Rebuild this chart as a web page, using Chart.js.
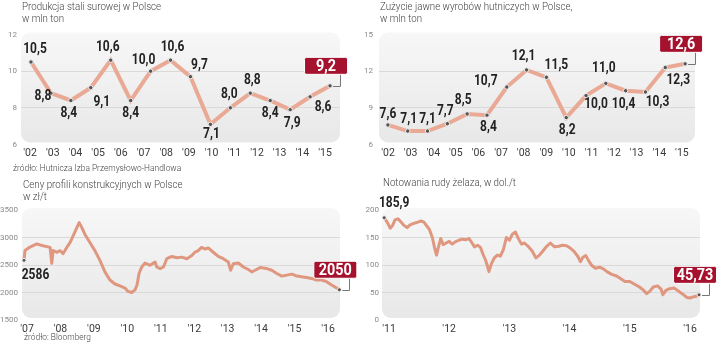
<!DOCTYPE html>
<html lang="pl">
<head>
<meta charset="utf-8">
<script src="https://cdn.jsdelivr.net/npm/chart.js@4.4.1/dist/chart.umd.min.js"></script>
<style>
    body {
        margin: 0;
        width: 720px;
        height: 345px;
        position: relative;
        overflow: hidden;
        background: #fff;
        font-family: Roboto, sans-serif;
    }
    canvas {
        position: absolute;
    }
    .tytul {
        position: absolute;
        font-size: 11px;
        line-height: 12.5px;
        font-weight: 300;
        color: #444;
        white-space: nowrap;
        transform: scaleX(0.885);
        transform-origin: left top;
    }
    .zrodlo {
        position: absolute;
        font-size: 9px;
        line-height: 10px;
        font-weight: 300;
        color: #444;
        white-space: nowrap;
        transform: scaleX(0.93);
        transform-origin: left top;
    }
</style>
</head>
<body>
<canvas id="grafico1" width="360" height="175" style="left:0;top:0"></canvas>
<canvas id="grafico2" width="360" height="175" style="left:360px;top:0"></canvas>
<canvas id="grafico3" width="360" height="170" style="left:0;top:175px"></canvas>
<canvas id="grafico4" width="360" height="170" style="left:360px;top:175px"></canvas>

<div class="tytul" style="left:22px;top:0.5px">Produkcja stali surowej w Polsce<br>w mln ton</div>
<div class="tytul" style="left:380px;top:0.5px">Zużycie jawne wyrobów hutniczych w Polsce,<br>w mln ton</div>
<div class="zrodlo" style="left:13px;top:163px">źródło: Hutnicza Izba Przemysłowo-Handlowa</div>
<div class="tytul" style="left:23px;top:178.5px">Ceny profili konstrukcyjnych w Polsce<br>w zł/t</div>
<div class="tytul" style="left:383px;top:176.5px">Notowania rudy żelaza, w dol./t</div>
<div class="zrodlo" style="left:24px;top:332px">źródło: Bloomberg</div>

<script>
const FONT = "Roboto, sans-serif";
Chart.defaults.font.family = FONT;

// Produkcja stali surowej, mln ton (16 lat)
const stalWartosci = [10.5, 8.8, 8.4, 9.1, 10.6, 8.4, 10.0, 10.6, 9.7, 7.1, 8.0, 8.8, 8.4, 7.9, 8.6, 9.2];
const stalEtykietyOsi = ["'02", "'03", "'04", "'05", "'06", "'07", "'08", "'09", "'10", "'11", "'12", "'13", "'14", "'15"];

// Zużycie jawne wyrobów hutniczych, mln ton
const zuzycieWartosci = [7.6, 7.1, 7.1, 7.7, 8.5, 8.4, 10.7, 12.1, 11.5, 8.2, 10.0, 11.0, 10.4, 10.3, 12.3, 12.6];
const zuzycieEtykietyOsi = ["'02", "'03", "'04", "'05", "'06", "'07", "'08", "'09", "'10", "'11", "'12", "'13", "'14", "'15"];

// Ceny profili konstrukcyjnych, zł/t
const profileDaty = [2006.91, 2006.94, 2007.09, 2007.29, 2007.48, 2007.69, 2007.74, 2007.78, 2007.90, 2007.99,
    2008.08, 2008.19, 2008.29, 2008.38, 2008.49, 2008.56, 2008.64, 2008.73, 2008.88, 2009.03,
    2009.18, 2009.33, 2009.48, 2009.63, 2009.78, 2009.93, 2010.02, 2010.13, 2010.23, 2010.29,
    2010.35, 2010.43, 2010.53, 2010.68, 2010.83, 2010.88, 2010.98, 2011.08, 2011.18, 2011.33,
    2011.48, 2011.63, 2011.78, 2011.93, 2012.02, 2012.12, 2012.22, 2012.32, 2012.42, 2012.57,
    2012.72, 2012.87, 2013.02, 2013.09, 2013.17, 2013.32, 2013.47, 2013.62, 2013.72, 2013.82,
    2013.97, 2014.17, 2014.32, 2014.47, 2014.62, 2014.77, 2014.92, 2015.07, 2015.21, 2015.36,
    2015.51, 2015.66, 2015.81, 2015.96, 2016.11, 2016.26, 2016.34];
const profileCeny = [2586, 2762, 2827, 2882, 2850, 2821, 2530, 2762, 2732, 2760,
    2708, 2820, 2910, 3030, 3180, 3270, 3180, 3060, 2910, 2762,
    2584, 2375, 2227, 2155, 2120, 2080, 2020, 2000, 2048, 2137,
    2346, 2464, 2536, 2494, 2553, 2464, 2435, 2464, 2614, 2655,
    2632, 2643, 2614, 2673, 2732, 2762, 2820, 2791, 2810, 2732,
    2655, 2614, 2553, 2405, 2524, 2536, 2464, 2418, 2375, 2405,
    2453, 2435, 2405, 2346, 2298, 2316, 2334, 2298, 2286, 2274,
    2256, 2227, 2227, 2197, 2137, 2080, 2050];
const profileLata = [2007, 2008, 2009, 2010, 2011, 2012, 2013, 2014, 2015, 2016];

// Notowania rudy żelaza, USD/t
const rudaDaty = [2010.92, 2010.97, 2011.02, 2011.06, 2011.10, 2011.15, 2011.20, 2011.25, 2011.30, 2011.35,
    2011.42, 2011.48, 2011.53, 2011.58, 2011.62, 2011.67, 2011.72, 2011.76, 2011.79, 2011.82,
    2011.86, 2011.90, 2011.95, 2012.00, 2012.05, 2012.10, 2012.16, 2012.22, 2012.28, 2012.33,
    2012.38, 2012.42, 2012.47, 2012.52, 2012.56, 2012.60, 2012.63, 2012.66, 2012.70, 2012.75,
    2012.80, 2012.85, 2012.90, 2012.95, 2013.00, 2013.05, 2013.10, 2013.15, 2013.20, 2013.25,
    2013.32, 2013.38, 2013.44, 2013.50, 2013.56, 2013.62, 2013.68, 2013.75, 2013.82, 2013.88,
    2013.95, 2014.02, 2014.08, 2014.14, 2014.18, 2014.22, 2014.27, 2014.32, 2014.37, 2014.43,
    2014.50, 2014.56, 2014.62, 2014.70, 2014.78, 2014.85, 2014.92, 2015.00, 2015.08, 2015.16,
    2015.22, 2015.28, 2015.33, 2015.39, 2015.46, 2015.52, 2015.55, 2015.60, 2015.66, 2015.74,
    2015.80, 2015.88, 2015.95, 2016.00, 2016.05, 2016.10, 2016.15];
const rudaCeny = [185.9, 178, 167, 172, 182, 184, 178, 172, 168, 173,
    176, 178, 180, 178, 172, 165, 150, 130, 118, 132,
    148, 137, 140, 143, 138, 142, 145, 147, 146, 148,
    140, 133, 136, 132, 120, 110, 100, 88, 102, 113,
    118, 116, 128, 150, 145, 156, 160, 148, 138, 140,
    133, 125, 113, 118, 126, 134, 140, 133, 134, 136,
    135, 130, 124, 115, 106, 114, 117, 107, 99, 94,
    96, 93, 88, 83, 80, 75, 70, 70, 65, 60,
    55, 48, 52, 60, 62, 56, 46, 54, 57, 58,
    53, 47, 41, 40, 42, 43, 45.73];
const rudaLata = [2011, 2012, 2013, 2014, 2015, 2016];

// przesunięcia opisów wartości względem punktów [dx, dy]
const stalOpisy = [[4, -13], [-8, 3], [-2, 13], [11, 15], [-3, -13], [0, 13], [-7, -11], [2, -13],
    [9, -11], [1, 10], [-1, -14], [2, -13], [0, 13], [2, 14], [13, 10]];
const zuzycieOpisy = [[0, -11], [1, -12], [0, -12], [-2, -12], [-4, -14], [1.5, 12], [-21, -6], [-3, -14],
    [10, -12], [1, 13], [10, 9], [-2, -15], [-2, 14], [12, 10], [13, 13]];

function formatuj(v, miejsca) {
    return v.toFixed(miejsca).replace(".", ",");
}

// tekst zwężony w poziomie
function napis(ctx, tekst, x, y, sx) {
    ctx.save();
    ctx.translate(x, y);
    ctx.scale(sx, 1);
    ctx.fillText(tekst, 0, 0);
    ctx.restore();
}

// szare tło obszaru wykresu z zaokrąglonymi rogami
const tloWykresu = {
    id: "tloWykresu",
    beforeDraw(chart) {
        const { ctx, chartArea: a } = chart;
        const top = a.top - 2;
        const bottom = a.bottom - 2;
        const g = ctx.createLinearGradient(0, top, 0, bottom);
        g.addColorStop(0, "#f7f7f7");
        g.addColorStop(1, "#e8e8e8");
        ctx.save();
        ctx.fillStyle = g;
        ctx.beginPath();
        ctx.roundRect(a.left, top, a.right - a.left, bottom - top, 9);
        ctx.fill();
        ctx.restore();
    },
};

// opisy wartości i czerwona ramka z ostatnią wartością
const opisyWartosci = {
    id: "opisyWartosci",
    afterDatasetsDraw(chart, args, opts) {
        const ctx = chart.ctx;
        const pts = chart.getDatasetMeta(0).data;
        const vals = chart.data.datasets[0].data;
        ctx.save();
        ctx.textAlign = "center";
        ctx.textBaseline = "middle";
        ctx.font = "bold 15px " + FONT;
        ctx.fillStyle = "#222";
        opts.przesuniecia.forEach((o, i) => {
            if (!o) return;
            napis(ctx, formatuj(vals[i].y, opts.miejsca), pts[i].x + o[0], pts[i].y + o[1], 0.8);
        });

        const n = pts.length - 1;
        const p = pts[n];
        const w = 43, h = 17;
        const cx = p.x - 4, cy = p.y - 20;
        ctx.strokeStyle = "#777";
        ctx.lineWidth = 1;
        ctx.beginPath();
        ctx.moveTo(p.x + 3, Math.round(p.y) + 0.5);
        ctx.lineTo(Math.round(p.x) + 10.5, Math.round(p.y) + 0.5);
        ctx.lineTo(Math.round(p.x) + 10.5, cy + h / 2);
        ctx.stroke();
        ctx.fillStyle = "#a5122e";
        ctx.strokeStyle = "#fff";
        ctx.beginPath();
        ctx.roundRect(cx - w / 2, cy - h / 2, w, h, 2);
        ctx.fill();
        ctx.stroke();
        ctx.fillStyle = "#fff";
        ctx.font = "bold 16px " + FONT;
        napis(ctx, formatuj(vals[n].y, opts.miejscaRamki), cx, cy + 1, 0.9);
        ctx.restore();
    },
};

function osY(min, max, krok, szer, odstep) {
    return {
        min: min,
        max: max,
        afterFit: (s) => { s.width = szer; },
        border: { display: false },
        grid: {
            drawTicks: false,
            color: (c) => (c.tick.value === min || c.tick.value === max ? "transparent" : "#d9d9d9"),
        },
        ticks: {
            stepSize: krok,
            padding: odstep,
            color: "#8a8a8a",
            font: { size: 8 },
            callback: (v) => String(v),
        },
    };
}

function osX(min, max, wartosci, etykieta) {
    return {
        type: "linear",
        position: "bottom",
        min: min,
        max: max,
        afterFit: (s) => { s.height = 20; },
        afterBuildTicks: (s) => { s.ticks = wartosci.map((v) => ({ value: v })); },
        border: { display: false },
        grid: { display: false, drawTicks: false },
        ticks: { padding: 3, color: "#3a3a3a", font: { size: 10.5 }, callback: etykieta },
    };
}

function wykresRoczny(id, wartosci, etykietyOsi, yOs, xMin, xMax, lMin, lMax, prawa, opisy) {
    new Chart(document.getElementById(id), {
        type: "line",
        data: {
            datasets: [{
                data: wartosci.map((v, i) => ({ x: i, y: v })),
                xAxisID: "x",
                yAxisID: "y",
                borderColor: "#e9a994",
                borderWidth: 4,
                pointRadius: 2.2,
                pointBackgroundColor: "#555",
                pointBorderColor: "#eee",
                pointBorderWidth: 1,
                clip: false,
            }],
        },
        options: {
            responsive: false,
            animation: false,
            layout: { padding: { top: 34.5, bottom: 10.5, right: prawa, left: 0 } },
            scales: {
                x: { type: "linear", min: xMin, max: xMax, display: false },
                xl: osX(lMin, lMax, etykietyOsi.map((e, i) => i), (v) => etykietyOsi[v]),
                y: yOs,
            },
            plugins: {
                legend: { display: false },
                tooltip: { enabled: false },
                opisyWartosci: { przesuniecia: opisy, miejsca: 1, miejscaRamki: 1 },
            },
        },
        plugins: [tloWykresu, opisyWartosci],
    });
}

function wykresCiagly(id, daty, ceny, lata, yOs, xMin, xMax, prawa, opis, miejsca, miejscaRamki) {
    const ostatni = ceny.length - 1;
    new Chart(document.getElementById(id), {
        type: "line",
        data: {
            datasets: [{
                data: daty.map((d, i) => ({ x: d, y: ceny[i] })),
                xAxisID: "x",
                yAxisID: "y",
                borderColor: "#e0977f",
                borderWidth: 3,
                borderJoinStyle: "round",
                pointRadius: (c) => (c.dataIndex === 0 || c.dataIndex === ostatni ? 2 : 0),
                pointBackgroundColor: "#555",
                pointBorderColor: "#eee",
                pointBorderWidth: 1,
                clip: false,
            }],
        },
        options: {
            responsive: false,
            animation: false,
            layout: { padding: { top: 35, bottom: 5, right: prawa, left: 0 } },
            scales: {
                x: osX(xMin, xMax, lata, (v) => "'" + String(v).slice(2)),
                y: yOs,
            },
            plugins: {
                legend: { display: false },
                tooltip: { enabled: false },
                opisyWartosci: { przesuniecia: [opis], miejsca: miejsca, miejscaRamki: miejscaRamki },
            },
        },
        plugins: [tloWykresu, opisyWartosci],
    });
}

wykresRoczny("grafico1", stalWartosci, stalEtykietyOsi, osY(6, 12, 2, 21, 4),
    -0.5, 15.5, -0.4, 13.66, 20, stalOpisy);
wykresRoczny("grafico2", zuzycieWartosci, zuzycieEtykietyOsi, osY(6, 15, 3, 19, 6),
    -0.45, 15.5, -0.4, 13.58, 25, zuzycieOpisy);
wykresCiagly("grafico3", profileDaty, profileCeny, profileLata, osY(1500, 3500, 500, 22, 4),
    2006.85, 2016.36, 20, [11.5, 15], 0, 0);
wykresCiagly("grafico4", rudaDaty, rudaCeny, rudaLata, osY(0, 200, 50, 22, 3),
    2010.884, 2016.166, 20, [10, -15], 1, 2);
</script>
</body>
</html>
